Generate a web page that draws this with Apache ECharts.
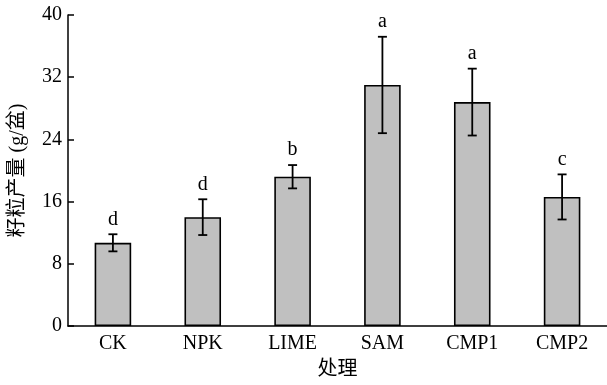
<!DOCTYPE html>
<html><head><meta charset="utf-8">
<script src="https://cdn.jsdelivr.net/npm/echarts@6/dist/echarts.min.js"></script>
<style>html,body{margin:0;padding:0;background:#fff}#c{width:607px;height:385px}</style>
</head><body><div id="c"></div>
<script>
const categories = ['CK','NPK','LIME','SAM','CMP1','CMP2'];
const means = [10.7, 14.0, 19.2, 31.0, 28.8, 16.6];
const errors = [1.1, 2.3, 1.5, 6.2, 4.3, 2.9];
const letters = ['d','d','b','a','a','c'];
const yTicks = [0, 8, 16, 24, 32, 40];

const font = '"Liberation Serif","Noto Sans CJK SC",serif';
const chart = echarts.init(document.getElementById('c'));
chart.setOption({
  animation: false,
  grid: {left: 68, top: 15, width: 540, height: 313.3},
  xAxis: {
    type: 'category', data: categories,
    axisLine: {lineStyle: {color: '#000', width: 1.5}},
    axisTick: {show: false},
    axisLabel: {color: '#000', fontSize: 20, fontFamily: font, margin: 8},
    name: '处理', nameLocation: 'middle', nameGap: 34,
    nameTextStyle: {color: '#000', fontSize: 20, fontFamily: font}
  },
  yAxis: {
    type: 'value', min: yTicks[0], max: yTicks[yTicks.length-1], interval: 8,
    axisLine: {show: true, lineStyle: {color: '#000', width: 1.5}},
    axisTick: {show: true, inside: true, length: 6, lineStyle: {color: '#000', width: 1.5}},
    splitLine: {show: false},
    axisLabel: {color: '#000', fontSize: 20, fontFamily: font, margin: 6},
    name: '籽粒产量 (g/盆)', nameLocation: 'middle', nameGap: 40,
    nameTextStyle: {color: '#000', fontSize: 20, fontFamily: font}
  },
  series: [{
    type: 'bar', data: means, barWidth: '40.7%',
    itemStyle: {color: '#c0c0c0', borderColor: '#000', borderWidth: 1.6}
  }, {
    type: 'custom',
    data: categories.map((c, i) => [i, means[i] - errors[i], means[i] + errors[i]]),
    renderItem: function (params, api) {
      const lo = api.coord([api.value(0), api.value(1)]);
      const hi = api.coord([api.value(0), api.value(2)]);
      const x = hi[0], cap = 4.5;
      const st = {stroke: '#000', lineWidth: 1.8};
      return {type: 'group', children: [
        {type: 'line', shape: {x1: x, y1: hi[1], x2: x, y2: lo[1]}, style: st},
        {type: 'line', shape: {x1: x - cap, y1: hi[1], x2: x + cap, y2: hi[1]}, style: st},
        {type: 'line', shape: {x1: x - cap, y1: lo[1], x2: x + cap, y2: lo[1]}, style: st},
        {type: 'text', style: {text: letters[params.dataIndex], x: x, y: hi[1] - 5,
          textAlign: 'center', textVerticalAlign: 'bottom', fill: '#000', fontSize: 20, fontFamily: font}}
      ]};
    },
    z: 10
  }]
});
</script></body></html>
